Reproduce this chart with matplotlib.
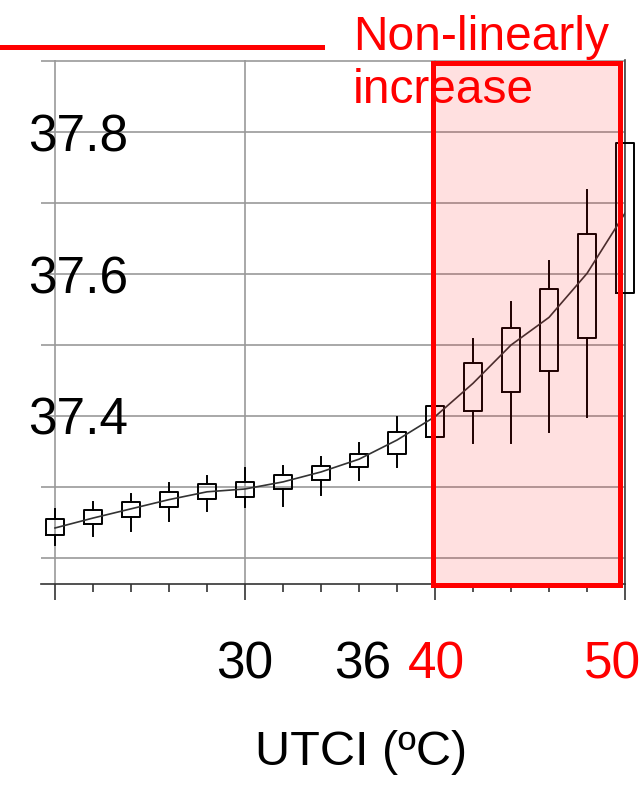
import matplotlib
matplotlib.use('Agg')
from matplotlib import pyplot as plt
from matplotlib.patches import Rectangle
from matplotlib.lines import Line2D
from matplotlib.ticker import MultipleLocator
import matplotlib.transforms as mtransforms

plt.rcParams['font.family'] = ['Liberation Sans', 'DejaVu Sans']

# UTCI bins and core temperature boxes
utci = [20, 22, 24, 26, 28, 30, 32, 34, 36, 38, 40, 42, 44, 46, 48, 50]
q3 = [37.254, 37.268, 37.278, 37.293, 37.304, 37.307, 37.317, 37.330,
      37.347, 37.378, 37.414, 37.475, 37.524, 37.579, 37.656, 37.785]
q1 = [37.232, 37.247, 37.258, 37.272, 37.283, 37.286, 37.297, 37.310,
      37.328, 37.347, 37.370, 37.407, 37.434, 37.463, 37.510, 37.573]
whis_hi = [37.269, 37.279, 37.290, 37.306, 37.315, 37.327, 37.330, 37.342,
           37.362, 37.399, 37.414, 37.508, 37.561, 37.618, 37.718, 37.785]
whis_lo = [37.218, 37.231, 37.238, 37.252, 37.266, 37.272, 37.273, 37.289,
           37.310, 37.328, 37.370, 37.362, 37.362, 37.377, 37.399, 37.573]
# fitted curve
fit = [37.242, 37.256, 37.269, 37.282, 37.293, 37.297, 37.307, 37.321,
       37.339, 37.366, 37.399, 37.446, 37.500, 37.539, 37.601, 37.686]

grid_y = [37.2, 37.3, 37.4, 37.5, 37.6, 37.7, 37.8, 37.9]
ylabels = ['', '', '37.4', '', '37.6', '', '37.8', '']
xlabels = ['30', '36', '40', '50']
xlabel_pos = [30, 36.2, 40.1, 49.35]
xlabel_cols = ['black', 'black', 'red', 'red']

fig = plt.figure(figsize=(6.41, 7.94), dpi=100)
ax = fig.add_axes([41 / 641, 1 - 584 / 794, 584 / 641, 524 / 794])
ax.set_xlim(19.263, 50)
ax.set_ylim(37.163, 37.902)

# grid
for gy in grid_y:
    ax.axhline(gy, color='#999999', lw=1.2, zorder=1)
for gx in [20, 30, 40, 50]:
    ax.axvline(gx, color='#999999', lw=1.2, zorder=1)

# boxes
stats = []
for i in range(len(utci)):
    stats.append({'med': fit[i], 'q1': q1[i], 'q3': q3[i],
                  'whislo': whis_lo[i], 'whishi': whis_hi[i]})
bp = ax.bxp(stats, positions=utci, widths=0.9, showcaps=False,
            showfliers=False, manage_ticks=False, patch_artist=False,
            boxprops=dict(color='black', lw=1.4),
            whiskerprops=dict(color='black', lw=1.4),
            medianprops=dict(lw=0))
for key in bp:
    for art in bp[key]:
        art.set_clip_on(False)
        art.set_zorder(3)

# fitted curve
ax.plot(utci, fit, color='#333333', lw=1.2, zorder=3)

# highlighted region
rect = Rectangle((39.87, 37.162), 49.76 - 39.87, 37.8975 - 37.162,
                 facecolor=(1, 0, 0, 0.12), edgecolor='red', lw=3.6,
                 zorder=5, clip_on=False)
ax.add_patch(rect)

# spines and ticks
for s in ['left', 'top']:
    ax.spines[s].set_visible(False)
ax.spines['bottom'].set_color('#333333')
ax.spines['bottom'].set_linewidth(1.2)
ax.spines['right'].set_color('#444444')
ax.spines['right'].set_linewidth(1.2)

ax.set_xticks([20, 30, 40, 50])
ax.xaxis.set_minor_locator(MultipleLocator(2))
ax.tick_params(axis='x', which='major', length=11.5, width=1.2,
               color='#333333', labelbottom=False)
ax.tick_params(axis='x', which='minor', length=5.8, width=1.2,
               color='#333333')

ax.set_yticks(grid_y)
ax.set_yticklabels(ylabels, fontsize=37)
ax.tick_params(axis='y', length=0, pad=9.4)
for lab in ax.get_yticklabels():
    lab.set_horizontalalignment('left')

trans = mtransforms.blended_transform_factory(ax.transData, ax.transAxes)
for pos, txt, col in zip(xlabel_pos, xlabels, xlabel_cols):
    ax.text(pos, -0.1794, txt, transform=trans, ha='center', va='baseline',
            fontsize=37, color=col, clip_on=False)

fig.text(361 / 641, 1 - 765 / 794, 'UTCI (ºC)', ha='center', va='baseline',
         fontsize=35)

# annotation
fig.add_artist(Line2D([0, 322 / 641], [1 - 47 / 794, 1 - 47 / 794],
                      color='red', lw=3.6, transform=fig.transFigure))
fig.text(353 / 641, 1 - 50 / 794, 'Non-linearly', color='red', fontsize=34.5,
         va='baseline', ha='left', zorder=6)
fig.text(353 / 641, 1 - 103 / 794, 'increase', color='red', fontsize=34.5,
         va='baseline', ha='left', zorder=6)

fig.savefig('out.png', dpi=100)
